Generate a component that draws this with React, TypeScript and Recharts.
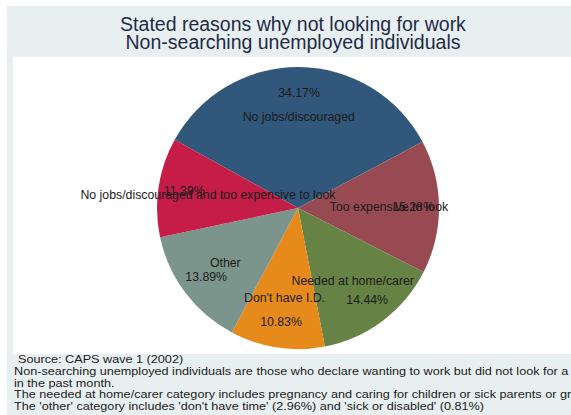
import { PieChart, Pie, Cell } from 'recharts';

const REASONS = [
  'No jobs/discouraged',
  'Too expensive to look',
  'Needed at home/carer',
  "Don't have I.D.",
  'Other',
  'No jobs/discouraged and too expensive to look',
];
const SHARES = [34.17, 15.28, 14.44, 10.83, 13.89, 11.39];
const COLORS = ['#31577a', '#984a52', '#668244', '#e68b1b', '#7c958c', '#c51c48'];

const TITLE = ['Stated reasons why not looking for work', 'Non-searching unemployed individuals'];
const NOTES = [
  'Source: CAPS wave 1 (2002)',
  'Non-searching unemployed individuals are those who declare wanting to work but did not look for a job',
  'in the past month.',
  'The needed at home/carer category includes pregnancy and caring for children or sick parents or grandparents',
  "The 'other' category includes 'don't have time' (2.96%) and 'sick or disabled' (0.81%)",
];

const data = REASONS.map((name, i) => ({ name, value: SHARES[i] }));

const FONT = '"Liberation Sans", Arial, sans-serif';
const RAD = Math.PI / 180;

// stata-style plabels: name inside, percent a bit further out
function SliceLabel(props: any) {
  const { cx, cy, midAngle, name, value } = props;
  const at = (r: number) => ({
    x: cx + r * Math.cos(-midAngle * RAD),
    y: cy + r * Math.sin(-midAngle * RAD),
  });
  const n = at(91);
  const p = at(115);
  return (
    <g fontFamily={FONT} fontSize={12.3} fill="#1b1b1b">
      <text x={n.x} y={n.y} textAnchor="middle" dominantBaseline="central">{name}</text>
      <text x={p.x} y={p.y} textAnchor="middle" dominantBaseline="central">{value.toFixed(2)}%</text>
    </g>
  );
}

export default function App() {
  return (
    <div style={{ position: 'absolute', left: 0, top: 0, width: 571, height: 415, background: '#fff', overflow: 'hidden' }}>
      <svg width={571} height={415} style={{ position: 'absolute', left: 0, top: 0 }}>
        <rect x={7} y={6} width={564} height={409} fill="#e8eff1" />
        <rect x={13} y={57} width={558} height={297} fill="#fff" />
        <g fontFamily={FONT} fontSize={19.5} fill="#1f2b45" textAnchor="middle">
          <text x={293} y={31}>{TITLE[0]}</text>
          <text x={293} y={48.5}>{TITLE[1]}</text>
        </g>
        {/* notes are a bit wider than tall in the original */}
        <g fontFamily={FONT} fontSize={11} fill="#1b1b1b" transform="translate(14 0) scale(1.15 1)">
          <text x={3.5} y={363.3}>{NOTES[0]}</text>
          <text x={0} y={375}>{NOTES[1]}</text>
          <text x={0} y={386.7}>{NOTES[2]}</text>
          <text x={0} y={398.3}>{NOTES[3]}</text>
          <text x={0} y={410}>{NOTES[4]}</text>
        </g>
      </svg>
      <div style={{ position: 'absolute', left: 0, top: 0 }}>
        <PieChart width={571} height={415}>
          <Pie
            data={data}
            dataKey="value"
            nameKey="name"
            cx={293}
            cy={203}
            outerRadius={141}
            startAngle={151}
            endAngle={-209}
            stroke="none"
            labelLine={false}
            label={SliceLabel}
            isAnimationActive={false}
          >
            {data.map((d, i) => (
              <Cell key={d.name} fill={COLORS[i]} />
            ))}
          </Pie>
        </PieChart>
      </div>
    </div>
  );
}
